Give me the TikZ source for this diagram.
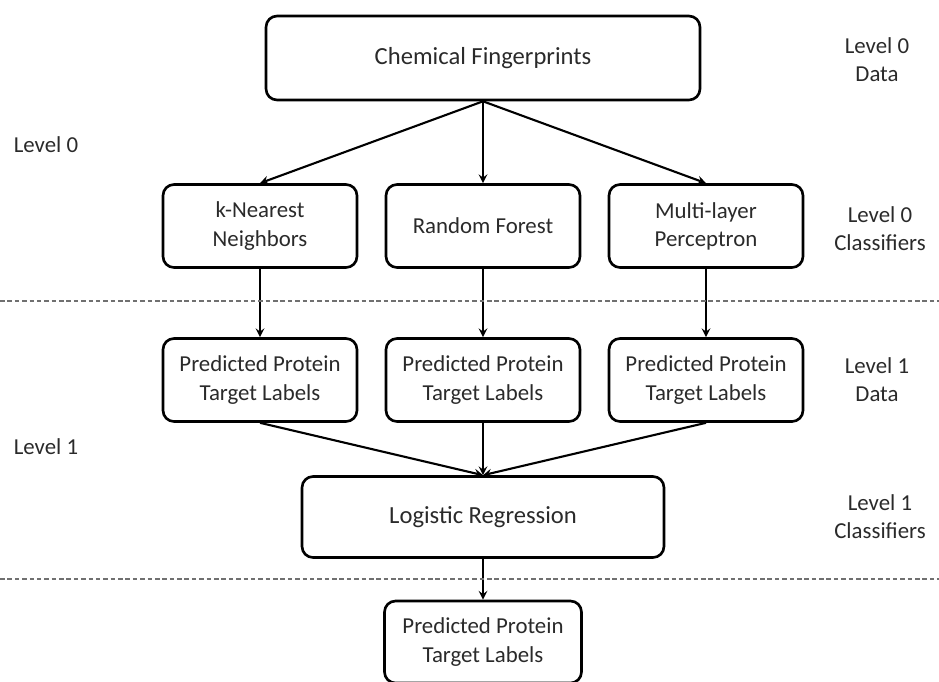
\documentclass[tikz,border=0pt]{standalone}
\usepackage{fontspec}
\setmainfont{Carlito}
\definecolor{txt}{HTML}{2A2A2A}
\definecolor{sep}{HTML}{707070}
\begin{document}
\begin{tikzpicture}[>=stealth, x=0.02cm, y=-0.02cm,
  box/.style={draw, line width=1.5pt, rounded corners=0.22cm, align=center,
    text=txt, font=\fontsize{13}{16}\selectfont, inner sep=0pt,
    minimum width=3.88cm, minimum height=1.66cm},
  lvl/.style={align=center, text=txt, font=\fontsize{13}{16}\selectfont},
  arr/.style={->, line width=1.2pt},
  sepline/.style={sep, dashed, dash pattern=on 2.6pt off 1.6pt, line width=1pt}]
\useasboundingbox (0,0) rectangle (939,681);
% boxes
\node[box, minimum width=8.68cm, minimum height=1.68cm, font=\fontsize{14}{17}\selectfont] (cf) at (483,58) {Chemical Fingerprints};
\node[box] (knn) at (260,226) {k-Nearest\\Neighbors};
\node[box] (rf) at (483,226) {Random Forest};
\node[box] (mlp) at (706,226) {Multi-layer\\Perceptron};
\node[box] (pa) at (260,380) {Predicted Protein\\Target Labels};
\node[box] (pb) at (483,380) {Predicted Protein\\Target Labels};
\node[box] (pc) at (706,380) {Predicted Protein\\Target Labels};
\node[box, minimum width=7.24cm, minimum height=1.62cm, font=\fontsize{14}{17}\selectfont] (lr) at (483,517) {Logistic Regression};
\node[box, minimum width=3.94cm, minimum height=1.64cm] (out) at (483,642) {Predicted Protein\\Target Labels};
% arrows
\draw[arr] (cf.south) -- (knn.north);
\draw[arr] (cf.south) -- (rf.north);
\draw[arr] (cf.south) -- (mlp.north);
\draw[arr] (knn) -- (pa);
\draw[arr] (rf) -- (pb);
\draw[arr] (mlp) -- (pc);
\draw[arr] (pa.south) -- (lr.north);
\draw[arr] (pb.south) -- (lr.north);
\draw[arr] (pc.south) -- (lr.north);
\draw[arr] (lr) -- (out);
% separators
\coordinate (s1l) at (0,301); \coordinate (s1r) at (939,301);
\coordinate (s2l) at (0,579); \coordinate (s2r) at (939,579);
\draw[sepline] (s1l) -- (s1r);
\draw[sepline] (s2l) -- (s2r);
% level labels
\node[lvl] (l0) at (46,145) {Level 0};
\node[lvl] (l1) at (46,447) {Level 1};
\node[lvl] (l0d) at (877,60) {Level 0\\Data};
\node[lvl] (l0c) at (880,229) {Level 0\\Classifiers};
\node[lvl] (l1d) at (877,380) {Level 1\\Data};
\node[lvl] (l1c) at (880,517) {Level 1\\Classifiers};
\end{tikzpicture}
\end{document}
